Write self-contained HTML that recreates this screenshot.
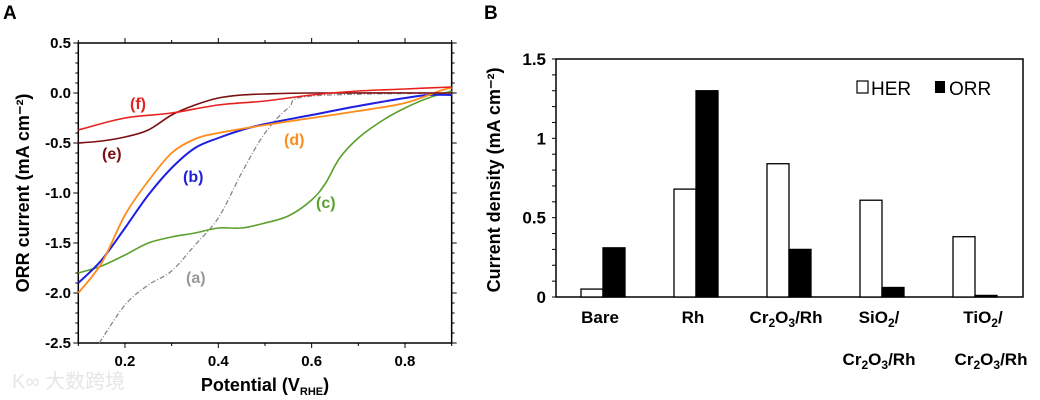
<!DOCTYPE html>
<html><head><meta charset="utf-8"><style>
body{margin:0;background:#fff;}
svg{display:block;font-family:"Liberation Sans",Arial,sans-serif;}
</style></head><body>
<svg id="fig" width="1040" height="400" viewBox="0 0 1040 400">
<text x="3" y="19" font-size="19" font-weight="bold">A</text>
<text x="484" y="19" font-size="19" font-weight="bold">B</text>
<g id="pa"></g>
<g id="pb"></g>
<text x="12" y="388" font-size="20" fill="#e6e6e6" font-family="'Liberation Sans','Noto Sans CJK SC',sans-serif">K∞ 大数跨境</text>
</svg>
<script>
// Panel A data
const xTicksA = [0.2, 0.4, 0.6, 0.8];
const yTicksA = [0.5, 0.0, -0.5, -1.0, -1.5, -2.0, -2.5];
const curveA_x = [0.145,0.2,0.25,0.3,0.35,0.4,0.45,0.5,0.55,0.6,0.9];
const curveA_y = [-2.5,-2.12,-1.92,-1.78,-1.52,-1.25,-0.8,-0.4,-0.15,-0.03,0];
const curveB_x = [0.1,0.15,0.2,0.25,0.3,0.35,0.4,0.45,0.5,0.6,0.7,0.8,0.85,0.9];
const curveB_y = [-1.9,-1.67,-1.35,-1.02,-0.75,-0.55,-0.45,-0.37,-0.31,-0.22,-0.13,-0.05,-0.02,-0.02];
const curveC_x = [0.1,0.15,0.2,0.25,0.3,0.35,0.4,0.45,0.5,0.55,0.6,0.63,0.66,0.7,0.75,0.8,0.85,0.9];
const curveC_y = [-1.8,-1.73,-1.62,-1.5,-1.44,-1.4,-1.35,-1.35,-1.3,-1.23,-1.07,-0.9,-0.65,-0.45,-0.28,-0.15,-0.05,0.02];
const curveD_x = [0.1,0.15,0.2,0.25,0.3,0.35,0.4,0.5,0.6,0.7,0.8,0.88,0.9];
const curveD_y = [-2.0,-1.7,-1.22,-0.88,-0.6,-0.46,-0.4,-0.32,-0.25,-0.18,-0.1,0.03,0.05];
const curveE_x = [0.1,0.15,0.2,0.25,0.3,0.35,0.4,0.45,0.5,0.6,0.9];
const curveE_y = [-0.5,-0.48,-0.44,-0.37,-0.22,-0.12,-0.05,-0.02,-0.01,0,0];
const curveF_x = [0.1,0.2,0.3,0.4,0.5,0.6,0.7,0.8,0.9];
const curveF_y = [-0.37,-0.25,-0.2,-0.12,-0.08,-0.02,0.02,0.04,0.06];
// Panel B data
const catsB = ["Bare","Rh","Cr2O3/Rh","SiO2/Cr2O3/Rh","TiO2/Cr2O3/Rh"];
const herB = [0.05,0.68,0.84,0.61,0.38];
const orrB = [0.31,1.30,0.30,0.06,0.01];
const yTicksB = [0,0.5,1,1.5];
const yTickLabelsB = ["0","0.5","1","1.5"];

const NS="http://www.w3.org/2000/svg";
function mk(p,tag,attrs,txt){const e=document.createElementNS(NS,tag);for(const k in attrs)e.setAttribute(k,attrs[k]);if(txt!==undefined)e.textContent=txt;p.appendChild(e);return e;}

// Panel A
const pa=document.getElementById('pa');
const ax=v=>78.3+(v-0.1)*466.7;
const ay=v=>93-v*100;
let r=mk(pa,'rect',{x:ax(0.1),y:ay(0.5),width:ax(0.9)-ax(0.1),height:300,fill:'none',stroke:'#000','stroke-width':1.5});


for(let i=0;i<=30;i++){const v=0.5-i*0.1;const y=ay(v);const maj=(i%5===0);
 mk(pa,'line',{x1:ax(0.1)-(maj?5:3),x2:ax(0.1),y1:y,y2:y,stroke:'#000','stroke-width':1});
 mk(pa,'line',{x1:ax(0.9),x2:ax(0.9)+(maj?5:3),y1:y,y2:y,stroke:'#000','stroke-width':1});}
for(let i=0;i<=8;i++){const v=0.1+i*0.1;const x=ax(v);const maj=(i%2===1);
 mk(pa,'line',{x1:x,x2:x,y1:ay(-2.5),y2:ay(-2.5)+(maj?5:3),stroke:'#000'});
 mk(pa,'line',{x1:x,x2:x,y1:ay(0.5)-(maj?5:3),y2:ay(0.5),stroke:'#000'});}
yTicksA.forEach(v=>{const t=mk(pa,'text',{x:71,y:ay(v)+5,'text-anchor':'end','font-size':15,'font-weight':'bold'},v.toFixed(1));
 
 });
xTicksA.forEach(v=>{const t=mk(pa,'text',{x:ax(v),y:ay(-2.5)+23,'text-anchor':'middle','font-size':15,'font-weight':'bold'},v.toFixed(1));
 
 });
let yt=mk(pa,'text',{x:0,y:0,transform:'translate(29,193) rotate(-90)','text-anchor':'middle','font-size':18,'font-weight':'bold'},'ORR current (mA cm⁻²)');


let xt=mk(pa,'text',{x:265,y:391,'text-anchor':'middle','font-size':18,'font-weight':'bold'});
xt.innerHTML='Potential (V<tspan font-size="11" dy="4">RHE</tspan><tspan dy="-4">)</tspan>';


function line(xs,ys,color,name,extra){
 const P=xs.map((v,i)=>[ax(v),ay(ys[i])]);
 let d='M'+P[0][0].toFixed(1)+','+P[0][1].toFixed(1);
 for(let i=0;i<P.length-1;i++){const p0=P[Math.max(0,i-1)],p1=P[i],p2=P[i+1],p3=P[Math.min(P.length-1,i+2)];
  const c1=[p1[0]+(p2[0]-p0[0])/6,p1[1]+(p2[1]-p0[1])/6],c2=[p2[0]-(p3[0]-p1[0])/6,p2[1]-(p3[1]-p1[1])/6];
  d+='C'+c1.map(n=>n.toFixed(1)).join(',')+' '+c2.map(n=>n.toFixed(1)).join(',')+' '+p2.map(n=>n.toFixed(1)).join(',');}
 const p=mk(pa,'path',Object.assign({d:d,fill:'none',stroke:color,'stroke-width':1.6,'stroke-linejoin':'round'},extra||{}));
 
 }
line(curveA_x,curveA_y,'#888','curve-a',{'stroke-dasharray':'5,2,1,2','stroke-width':1.3});
line(curveC_x,curveC_y,'#5aa02c','curve-c');
line(curveB_x,curveB_y,'#1f1fe0','curve-b',{'stroke-width':2});
line(curveD_x,curveD_y,'#ff8c1a','curve-d',{'stroke-width':1.8});
line(curveE_x,curveE_y,'#7a1010','curve-e');
line(curveF_x,curveF_y,'#e8201f','curve-f');
[['(f)',130,109,'#e8201f'],['(e)',102,159,'#7a1010'],['(b)',183,182,'#1f1fe0'],['(d)',284,145,'#ff8c1a'],['(c)',316,208,'#5aa02c'],['(a)',186,283,'#999']].forEach(l=>{
 const t=mk(pa,'text',{x:l[1],y:l[2],'font-size':16,'font-weight':'bold',fill:l[3]},l[0]);
 
 });

// Panel B
const pb=document.getElementById('pb');
const by=v=>297-v*(238/1.5);
const bx=i=>603+i*93;
r=mk(pb,'rect',{x:556,y:59,width:467,height:238,fill:'none',stroke:'#000','stroke-width':1.5});


for(let i=0;i<=15;i++){const y=by(i*0.1);mk(pb,'line',{x1:552,x2:556,y1:y,y2:y,stroke:'#000'});}
yTicksB.forEach((v,i)=>{const t=mk(pb,'text',{x:546,y:by(v)+6,'text-anchor':'end','font-size':17,'font-weight':'bold'},yTickLabelsB[i]);
 
 });
yt=mk(pb,'text',{x:0,y:0,transform:'translate(500,180) rotate(-90)','text-anchor':'middle','font-size':18,'font-weight':'bold'},'Current density (mA cm⁻²)');


catsB.forEach((c,i)=>{
 const h=mk(pb,'rect',{x:bx(i)-22,y:by(herB[i]),width:22,height:297-by(herB[i]),fill:'#fff',stroke:'#000','stroke-width':1.3});
 
 
 const o=mk(pb,'rect',{x:bx(i),y:by(orrB[i]),width:22,height:297-by(orrB[i]),fill:'#000',stroke:'#000','stroke-width':1.3});
 
 
});
const sub='Cr<tspan font-size="12" dy="4">2</tspan><tspan dy="-4">O</tspan><tspan font-size="12" dy="4">3</tspan><tspan dy="-4">/Rh</tspan>';
const labs=[['Bare',null],['Rh',null],[sub,null],
 ['SiO<tspan font-size="12" dy="4">2</tspan><tspan dy="-4">/</tspan>',sub],
 ['TiO<tspan font-size="12" dy="4">2</tspan><tspan dy="-4">/</tspan>',sub]];
labs.forEach((l,i)=>{
 const cx=(i===4)?bx(i)+8:bx(i)-3;
 const t=mk(pb,'text',{x:cx,y:323,'text-anchor':'middle','font-size':17,'font-weight':'bold'});t.innerHTML=l[0];
 
 
 if(l[1]){const t2=mk(pb,'text',{x:cx+(i===4?8:0),y:365,'text-anchor':'middle','font-size':17,'font-weight':'bold'});t2.innerHTML=l[1];
 
 }
});
const lg=mk(pb,'g',{});


mk(lg,'rect',{x:857,y:81,width:11,height:12,fill:'#fff',stroke:'#000','stroke-width':1.2});
mk(lg,'text',{x:871,y:95,'font-size':19},'HER');
mk(lg,'rect',{x:935,y:81,width:10,height:12,fill:'#000'});
mk(lg,'text',{x:949,y:95,'font-size':19},'ORR');
</script>
</body></html>
